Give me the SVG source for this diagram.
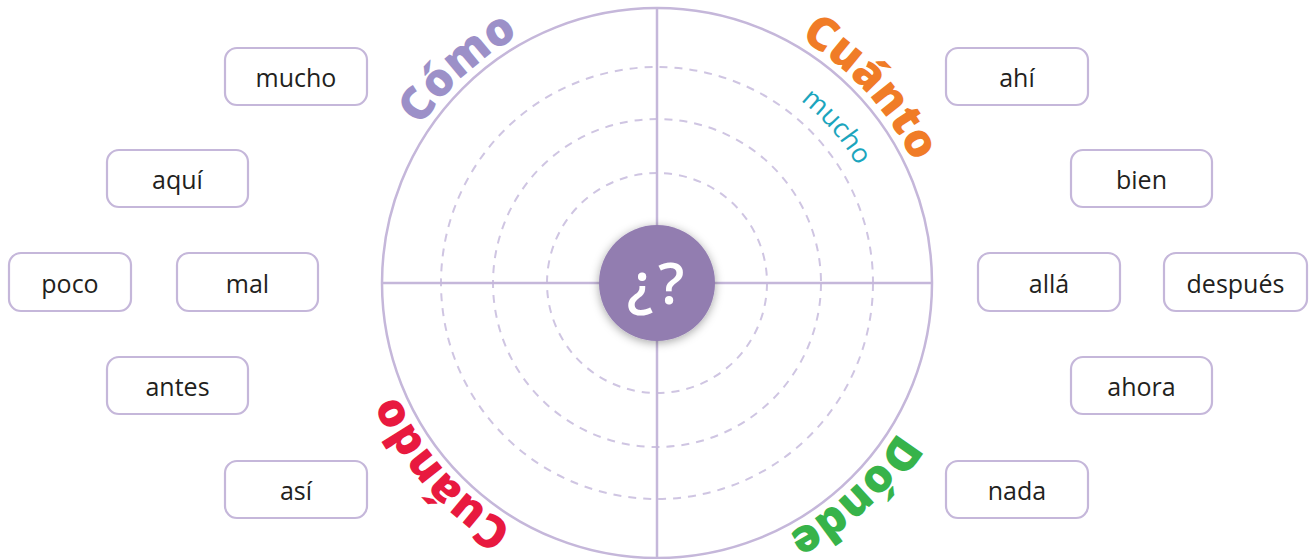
<svg xmlns="http://www.w3.org/2000/svg" width="1316" height="559" viewBox="0 0 1316 559">
<style>
.box rect{fill:#fff;stroke:#c5b7da;stroke-width:2.2}
.box text{font-family:"Open Sans","Noto Sans",sans-serif;font-size:25px;fill:#231f20;text-anchor:middle}
.ring{fill:none;stroke:#c5b7da;stroke-width:2.5}
.dash{fill:none;stroke:#cfc5e2;stroke-width:2;stroke-dasharray:8 7}
.lbl{font-family:"Open Sans","Noto Sans",sans-serif;font-weight:800;font-size:46px;text-anchor:middle}
</style>
<defs>
<path id="outer" d="M657,0 A283,283 0 1 1 657,566 A283,283 0 1 1 657,0"/>
<path id="inner" d="M657,51 A232,232 0 1 1 657,515 A232,232 0 1 1 657,51"/>
<filter id="sh" x="-50%" y="-50%" width="200%" height="200%">
<feDropShadow dx="0" dy="2" stdDeviation="5" flood-color="#000" flood-opacity="0.35"/>
</filter>
</defs>
<g id="wheel">
<circle class="ring" cx="657" cy="283" r="275"/>
<circle class="dash" cx="657" cy="283" r="216"/>
<circle class="dash" cx="657" cy="283" r="164"/>
<circle class="dash" cx="657" cy="283" r="110"/>
<line class="ring" x1="657" y1="8" x2="657" y2="558"/>
<line class="ring" x1="382" y1="283" x2="932" y2="283"/>
</g>
<g id="labels">
<text class="lbl" fill="#9c90c8"><textPath href="#outer" startOffset="1566">Cómo</textPath></text>
<text class="lbl" fill="#f07c27"><textPath href="#outer" startOffset="235">Cuánto</textPath></text>
<text class="lbl" fill="#e8193f"><textPath href="#outer" startOffset="1129">Cuándo</textPath></text>
<text class="lbl" fill="#37b34a"><textPath href="#outer" startOffset="677">Dónde</textPath></text>
<text font-family="'Open Sans','Noto Sans',sans-serif" font-size="27" fill="#1ba5bd" text-anchor="middle"><textPath href="#inner" startOffset="198">mucho</textPath></text>
</g>
<g id="center">
<circle cx="657" cy="283" r="58" fill="#927db0" filter="url(#sh)"/>
<text x="658" y="304" font-family="'Open Sans','Noto Sans',sans-serif" font-weight="600" font-size="58" fill="#fff" text-anchor="middle" letter-spacing="5">¿?</text>
</g>
<g id="box-mucho" class="box"><rect x="225" y="48" width="142" height="57" rx="12"/><text x="296" y="87">mucho</text></g>
<g id="box-aqui" class="box"><rect x="107" y="150" width="141" height="57" rx="12"/><text x="177.5" y="189">aquí</text></g>
<g id="box-poco" class="box"><rect x="9" y="253" width="122" height="58" rx="12"/><text x="70" y="293">poco</text></g>
<g id="box-mal" class="box"><rect x="177" y="253" width="141" height="58" rx="12"/><text x="247.5" y="293">mal</text></g>
<g id="box-antes" class="box"><rect x="107" y="357" width="141" height="57" rx="12"/><text x="177.5" y="396">antes</text></g>
<g id="box-asi" class="box"><rect x="225" y="461" width="142" height="57" rx="12"/><text x="296" y="500">así</text></g>
<g id="box-ahi" class="box"><rect x="946" y="48" width="142" height="57" rx="12"/><text x="1017" y="87">ahí</text></g>
<g id="box-bien" class="box"><rect x="1071" y="150" width="141" height="57" rx="12"/><text x="1141.5" y="189">bien</text></g>
<g id="box-alla" class="box"><rect x="978" y="253" width="142" height="58" rx="12"/><text x="1049" y="293">allá</text></g>
<g id="box-despues" class="box"><rect x="1164" y="253" width="143" height="58" rx="12"/><text x="1235.5" y="293">después</text></g>
<g id="box-ahora" class="box"><rect x="1071" y="357" width="141" height="57" rx="12"/><text x="1141.5" y="396">ahora</text></g>
<g id="box-nada" class="box"><rect x="946" y="461" width="142" height="57" rx="12"/><text x="1017" y="500">nada</text></g>
</svg>
